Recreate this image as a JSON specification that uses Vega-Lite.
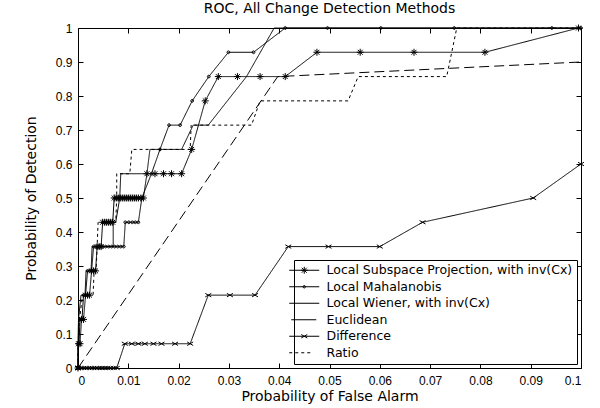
{
  "$schema": "https://vega.github.io/schema/vega-lite/v6.json",
  "width": 503,
  "height": 340,
  "autosize": {"type": "none"},
  "padding": {"left": 78, "top": 28, "right": 19, "bottom": 40},
  "background": "white",
  "config": {
    "font": "Liberation Sans",
    "view": {"stroke": "black", "strokeWidth": 1},
    "axis": {
      "grid": false,
      "domain": false,
      "tickColor": "black",
      "tickSize": -5,
      "labelColor": "black",
      "labelFont": "Liberation Sans",
      "labelFontSize": 12,
      "titleFont": "DejaVu Sans",
      "titleFontSize": 14,
      "titleFontWeight": "normal",
      "titleColor": "black"
    },
    "legend": {
      "title": null,
      "orient": "bottom-right",
      "offset": 4,
      "strokeColor": "black",
      "fillColor": "white",
      "padding": 4,
      "symbolSize": 100,
      "labelFont": "DejaVu Sans",
      "labelFontSize": 12.5,
      "labelColor": "black",
      "labelOffset": 16,
      "rowPadding": 3.5,
      "symbolStrokeColor": "black",
      "symbolFillColor": "black",
      "symbolStrokeWidth": 1,
      "symbolOpacity": 1,
      "labelLimit": 0
    }
  },
  "title": {"text": "ROC, All Change Detection Methods", "fontSize": 14, "fontWeight": "normal", "font": "DejaVu Sans", "color": "black", "offset": 6, "frame": "group"},
  "data": {"values": [
    {"series": "Local Subspace Projection, with inv(Cx)", "i": 0, "x": 0, "y": 0},
    {"series": "Local Subspace Projection, with inv(Cx)", "i": 1, "x": 0.0001, "y": 0.0714},
    {"series": "Local Subspace Projection, with inv(Cx)", "i": 2, "x": 0.0004, "y": 0.0714},
    {"series": "Local Subspace Projection, with inv(Cx)", "i": 3, "x": 0.0007, "y": 0.1429},
    {"series": "Local Subspace Projection, with inv(Cx)", "i": 4, "x": 0.0011, "y": 0.1429},
    {"series": "Local Subspace Projection, with inv(Cx)", "i": 5, "x": 0.0015, "y": 0.2143},
    {"series": "Local Subspace Projection, with inv(Cx)", "i": 6, "x": 0.0019, "y": 0.2143},
    {"series": "Local Subspace Projection, with inv(Cx)", "i": 7, "x": 0.0023, "y": 0.2143},
    {"series": "Local Subspace Projection, with inv(Cx)", "i": 8, "x": 0.0027, "y": 0.2857},
    {"series": "Local Subspace Projection, with inv(Cx)", "i": 9, "x": 0.0031, "y": 0.2857},
    {"series": "Local Subspace Projection, with inv(Cx)", "i": 10, "x": 0.0035, "y": 0.2857},
    {"series": "Local Subspace Projection, with inv(Cx)", "i": 11, "x": 0.0038, "y": 0.3571},
    {"series": "Local Subspace Projection, with inv(Cx)", "i": 12, "x": 0.0042, "y": 0.3571},
    {"series": "Local Subspace Projection, with inv(Cx)", "i": 13, "x": 0.0046, "y": 0.3571},
    {"series": "Local Subspace Projection, with inv(Cx)", "i": 14, "x": 0.0049, "y": 0.4286},
    {"series": "Local Subspace Projection, with inv(Cx)", "i": 15, "x": 0.0053, "y": 0.4286},
    {"series": "Local Subspace Projection, with inv(Cx)", "i": 16, "x": 0.0057, "y": 0.4286},
    {"series": "Local Subspace Projection, with inv(Cx)", "i": 17, "x": 0.0061, "y": 0.4286},
    {"series": "Local Subspace Projection, with inv(Cx)", "i": 18, "x": 0.0065, "y": 0.4286},
    {"series": "Local Subspace Projection, with inv(Cx)", "i": 19, "x": 0.0069, "y": 0.4286},
    {"series": "Local Subspace Projection, with inv(Cx)", "i": 20, "x": 0.0072, "y": 0.5},
    {"series": "Local Subspace Projection, with inv(Cx)", "i": 21, "x": 0.0076, "y": 0.5},
    {"series": "Local Subspace Projection, with inv(Cx)", "i": 22, "x": 0.008, "y": 0.5},
    {"series": "Local Subspace Projection, with inv(Cx)", "i": 23, "x": 0.0084, "y": 0.5},
    {"series": "Local Subspace Projection, with inv(Cx)", "i": 24, "x": 0.0088, "y": 0.5},
    {"series": "Local Subspace Projection, with inv(Cx)", "i": 25, "x": 0.0092, "y": 0.5},
    {"series": "Local Subspace Projection, with inv(Cx)", "i": 26, "x": 0.0096, "y": 0.5},
    {"series": "Local Subspace Projection, with inv(Cx)", "i": 27, "x": 0.01, "y": 0.5},
    {"series": "Local Subspace Projection, with inv(Cx)", "i": 28, "x": 0.0104, "y": 0.5},
    {"series": "Local Subspace Projection, with inv(Cx)", "i": 29, "x": 0.0108, "y": 0.5},
    {"series": "Local Subspace Projection, with inv(Cx)", "i": 30, "x": 0.0112, "y": 0.5},
    {"series": "Local Subspace Projection, with inv(Cx)", "i": 31, "x": 0.0116, "y": 0.5},
    {"series": "Local Subspace Projection, with inv(Cx)", "i": 32, "x": 0.012, "y": 0.5},
    {"series": "Local Subspace Projection, with inv(Cx)", "i": 33, "x": 0.0125, "y": 0.5},
    {"series": "Local Subspace Projection, with inv(Cx)", "i": 34, "x": 0.013, "y": 0.5},
    {"series": "Local Subspace Projection, with inv(Cx)", "i": 35, "x": 0.0137, "y": 0.5714},
    {"series": "Local Subspace Projection, with inv(Cx)", "i": 36, "x": 0.0153, "y": 0.5714},
    {"series": "Local Subspace Projection, with inv(Cx)", "i": 37, "x": 0.017, "y": 0.5714},
    {"series": "Local Subspace Projection, with inv(Cx)", "i": 38, "x": 0.0186, "y": 0.5714},
    {"series": "Local Subspace Projection, with inv(Cx)", "i": 39, "x": 0.0206, "y": 0.5714},
    {"series": "Local Subspace Projection, with inv(Cx)", "i": 40, "x": 0.0226, "y": 0.6429},
    {"series": "Local Subspace Projection, with inv(Cx)", "i": 41, "x": 0.0253, "y": 0.7857},
    {"series": "Local Subspace Projection, with inv(Cx)", "i": 42, "x": 0.0279, "y": 0.8571},
    {"series": "Local Subspace Projection, with inv(Cx)", "i": 43, "x": 0.0317, "y": 0.8571},
    {"series": "Local Subspace Projection, with inv(Cx)", "i": 44, "x": 0.0362, "y": 0.8571},
    {"series": "Local Subspace Projection, with inv(Cx)", "i": 45, "x": 0.0412, "y": 0.8571},
    {"series": "Local Subspace Projection, with inv(Cx)", "i": 46, "x": 0.0475, "y": 0.9286},
    {"series": "Local Subspace Projection, with inv(Cx)", "i": 47, "x": 0.0561, "y": 0.9286},
    {"series": "Local Subspace Projection, with inv(Cx)", "i": 48, "x": 0.0668, "y": 0.9286},
    {"series": "Local Subspace Projection, with inv(Cx)", "i": 49, "x": 0.0809, "y": 0.9286},
    {"series": "Local Subspace Projection, with inv(Cx)", "i": 50, "x": 0.0995, "y": 1},
    {"series": "Local Mahalanobis", "i": 0, "x": 0, "y": 0},
    {"series": "Local Mahalanobis", "i": 1, "x": 0, "y": 0.0714},
    {"series": "Local Mahalanobis", "i": 2, "x": 0.0002, "y": 0.0714},
    {"series": "Local Mahalanobis", "i": 3, "x": 0.0004, "y": 0.1429},
    {"series": "Local Mahalanobis", "i": 4, "x": 0.0008, "y": 0.1429},
    {"series": "Local Mahalanobis", "i": 5, "x": 0.0011, "y": 0.2143},
    {"series": "Local Mahalanobis", "i": 6, "x": 0.0015, "y": 0.2143},
    {"series": "Local Mahalanobis", "i": 7, "x": 0.0019, "y": 0.2857},
    {"series": "Local Mahalanobis", "i": 8, "x": 0.0023, "y": 0.2857},
    {"series": "Local Mahalanobis", "i": 9, "x": 0.0027, "y": 0.2857},
    {"series": "Local Mahalanobis", "i": 10, "x": 0.0031, "y": 0.3571},
    {"series": "Local Mahalanobis", "i": 11, "x": 0.0037, "y": 0.3571},
    {"series": "Local Mahalanobis", "i": 12, "x": 0.0043, "y": 0.3571},
    {"series": "Local Mahalanobis", "i": 13, "x": 0.0049, "y": 0.3571},
    {"series": "Local Mahalanobis", "i": 14, "x": 0.0055, "y": 0.3571},
    {"series": "Local Mahalanobis", "i": 15, "x": 0.0061, "y": 0.3571},
    {"series": "Local Mahalanobis", "i": 16, "x": 0.0067, "y": 0.3571},
    {"series": "Local Mahalanobis", "i": 17, "x": 0.0073, "y": 0.3571},
    {"series": "Local Mahalanobis", "i": 18, "x": 0.0079, "y": 0.3571},
    {"series": "Local Mahalanobis", "i": 19, "x": 0.0085, "y": 0.3571},
    {"series": "Local Mahalanobis", "i": 20, "x": 0.0091, "y": 0.3571},
    {"series": "Local Mahalanobis", "i": 21, "x": 0.0094, "y": 0.4286},
    {"series": "Local Mahalanobis", "i": 22, "x": 0.0101, "y": 0.4286},
    {"series": "Local Mahalanobis", "i": 23, "x": 0.0108, "y": 0.4286},
    {"series": "Local Mahalanobis", "i": 24, "x": 0.0114, "y": 0.4286},
    {"series": "Local Mahalanobis", "i": 25, "x": 0.012, "y": 0.4286},
    {"series": "Local Mahalanobis", "i": 26, "x": 0.0127, "y": 0.5},
    {"series": "Local Mahalanobis", "i": 27, "x": 0.0146, "y": 0.5714},
    {"series": "Local Mahalanobis", "i": 28, "x": 0.0163, "y": 0.6429},
    {"series": "Local Mahalanobis", "i": 29, "x": 0.0181, "y": 0.7143},
    {"series": "Local Mahalanobis", "i": 30, "x": 0.0203, "y": 0.7143},
    {"series": "Local Mahalanobis", "i": 31, "x": 0.0227, "y": 0.7857},
    {"series": "Local Mahalanobis", "i": 32, "x": 0.026, "y": 0.8571},
    {"series": "Local Mahalanobis", "i": 33, "x": 0.0299, "y": 0.9286},
    {"series": "Local Mahalanobis", "i": 34, "x": 0.0349, "y": 0.9286},
    {"series": "Local Mahalanobis", "i": 35, "x": 0.0412, "y": 1},
    {"series": "Local Mahalanobis", "i": 36, "x": 0.0496, "y": 1},
    {"series": "Local Mahalanobis", "i": 37, "x": 0.0602, "y": 1},
    {"series": "Local Mahalanobis", "i": 38, "x": 0.0748, "y": 1},
    {"series": "Local Mahalanobis", "i": 39, "x": 0.0942, "y": 1},
    {"series": "Local Mahalanobis", "i": 40, "x": 0.1, "y": 1},
    {"series": "Local Wiener, with inv(Cx)", "i": 0, "x": 0, "y": 0},
    {"series": "Local Wiener, with inv(Cx)", "i": 1, "x": 0, "y": 0.0714},
    {"series": "Local Wiener, with inv(Cx)", "i": 2, "x": 0.0001, "y": 0.1429},
    {"series": "Local Wiener, with inv(Cx)", "i": 3, "x": 0.0006, "y": 0.2143},
    {"series": "Local Wiener, with inv(Cx)", "i": 4, "x": 0.0014, "y": 0.2143},
    {"series": "Local Wiener, with inv(Cx)", "i": 5, "x": 0.0016, "y": 0.2857},
    {"series": "Local Wiener, with inv(Cx)", "i": 6, "x": 0.0026, "y": 0.2857},
    {"series": "Local Wiener, with inv(Cx)", "i": 7, "x": 0.0028, "y": 0.3571},
    {"series": "Local Wiener, with inv(Cx)", "i": 8, "x": 0.007, "y": 0.3571},
    {"series": "Local Wiener, with inv(Cx)", "i": 9, "x": 0.007, "y": 0.4286},
    {"series": "Local Wiener, with inv(Cx)", "i": 10, "x": 0.0075, "y": 0.4286},
    {"series": "Local Wiener, with inv(Cx)", "i": 11, "x": 0.0083, "y": 0.5},
    {"series": "Local Wiener, with inv(Cx)", "i": 12, "x": 0.0085, "y": 0.5714},
    {"series": "Local Wiener, with inv(Cx)", "i": 13, "x": 0.0137, "y": 0.5714},
    {"series": "Local Wiener, with inv(Cx)", "i": 14, "x": 0.0143, "y": 0.6429},
    {"series": "Local Wiener, with inv(Cx)", "i": 15, "x": 0.0206, "y": 0.6429},
    {"series": "Local Wiener, with inv(Cx)", "i": 16, "x": 0.0229, "y": 0.7143},
    {"series": "Local Wiener, with inv(Cx)", "i": 17, "x": 0.0259, "y": 0.7143},
    {"series": "Local Wiener, with inv(Cx)", "i": 18, "x": 0.0335, "y": 0.8571},
    {"series": "Local Wiener, with inv(Cx)", "i": 19, "x": 0.039, "y": 1},
    {"series": "Local Wiener, with inv(Cx)", "i": 20, "x": 0.1, "y": 1},
    {"series": "Euclidean", "i": 0, "x": 0, "y": 0},
    {"series": "Euclidean", "i": 1, "x": 0.0397, "y": 0.8571},
    {"series": "Euclidean", "i": 2, "x": 0.1, "y": 0.9},
    {"series": "Difference", "i": 0, "x": 0, "y": 0},
    {"series": "Difference", "i": 1, "x": 0.0005, "y": 0},
    {"series": "Difference", "i": 2, "x": 0.001, "y": 0},
    {"series": "Difference", "i": 3, "x": 0.0015, "y": 0},
    {"series": "Difference", "i": 4, "x": 0.002, "y": 0},
    {"series": "Difference", "i": 5, "x": 0.0025, "y": 0},
    {"series": "Difference", "i": 6, "x": 0.003, "y": 0},
    {"series": "Difference", "i": 7, "x": 0.0035, "y": 0},
    {"series": "Difference", "i": 8, "x": 0.004, "y": 0},
    {"series": "Difference", "i": 9, "x": 0.0046, "y": 0},
    {"series": "Difference", "i": 10, "x": 0.0052, "y": 0},
    {"series": "Difference", "i": 11, "x": 0.0058, "y": 0},
    {"series": "Difference", "i": 12, "x": 0.0064, "y": 0},
    {"series": "Difference", "i": 13, "x": 0.0071, "y": 0},
    {"series": "Difference", "i": 14, "x": 0.0077, "y": 0},
    {"series": "Difference", "i": 15, "x": 0.0093, "y": 0.0714},
    {"series": "Difference", "i": 16, "x": 0.0107, "y": 0.0714},
    {"series": "Difference", "i": 17, "x": 0.012, "y": 0.0714},
    {"series": "Difference", "i": 18, "x": 0.0133, "y": 0.0714},
    {"series": "Difference", "i": 19, "x": 0.015, "y": 0.0714},
    {"series": "Difference", "i": 20, "x": 0.0166, "y": 0.0714},
    {"series": "Difference", "i": 21, "x": 0.0193, "y": 0.0714},
    {"series": "Difference", "i": 22, "x": 0.0223, "y": 0.0714},
    {"series": "Difference", "i": 23, "x": 0.0259, "y": 0.2143},
    {"series": "Difference", "i": 24, "x": 0.0302, "y": 0.2143},
    {"series": "Difference", "i": 25, "x": 0.0352, "y": 0.2143},
    {"series": "Difference", "i": 26, "x": 0.0418, "y": 0.3571},
    {"series": "Difference", "i": 27, "x": 0.0498, "y": 0.3571},
    {"series": "Difference", "i": 28, "x": 0.06, "y": 0.3571},
    {"series": "Difference", "i": 29, "x": 0.0685, "y": 0.4286},
    {"series": "Difference", "i": 30, "x": 0.0905, "y": 0.5},
    {"series": "Difference", "i": 31, "x": 0.1, "y": 0.6},
    {"series": "Ratio", "i": 0, "x": 0, "y": 0},
    {"series": "Ratio", "i": 1, "x": 0, "y": 0.0714},
    {"series": "Ratio", "i": 2, "x": 0.0003, "y": 0.1429},
    {"series": "Ratio", "i": 3, "x": 0.0009, "y": 0.2143},
    {"series": "Ratio", "i": 4, "x": 0.003, "y": 0.2143},
    {"series": "Ratio", "i": 5, "x": 0.0032, "y": 0.2857},
    {"series": "Ratio", "i": 6, "x": 0.0036, "y": 0.2857},
    {"series": "Ratio", "i": 7, "x": 0.0038, "y": 0.3571},
    {"series": "Ratio", "i": 8, "x": 0.004, "y": 0.4286},
    {"series": "Ratio", "i": 9, "x": 0.0075, "y": 0.4286},
    {"series": "Ratio", "i": 10, "x": 0.0077, "y": 0.5},
    {"series": "Ratio", "i": 11, "x": 0.0077, "y": 0.5714},
    {"series": "Ratio", "i": 12, "x": 0.0103, "y": 0.5714},
    {"series": "Ratio", "i": 13, "x": 0.0107, "y": 0.6429},
    {"series": "Ratio", "i": 14, "x": 0.0223, "y": 0.6429},
    {"series": "Ratio", "i": 15, "x": 0.0225, "y": 0.7143},
    {"series": "Ratio", "i": 16, "x": 0.0345, "y": 0.7143},
    {"series": "Ratio", "i": 17, "x": 0.0362, "y": 0.7857},
    {"series": "Ratio", "i": 18, "x": 0.0537, "y": 0.7857},
    {"series": "Ratio", "i": 19, "x": 0.0557, "y": 0.8571},
    {"series": "Ratio", "i": 20, "x": 0.0733, "y": 0.8571},
    {"series": "Ratio", "i": 21, "x": 0.0753, "y": 1},
    {"series": "Ratio", "i": 22, "x": 0.1, "y": 1}
  ]},
  "layer": [
    {
      "mark": {"type": "line", "color": "black", "strokeWidth": 1},
      "encoding": {
        "x": {"field": "x", "type": "quantitative", "scale": {"domain": [0, 0.1], "nice": false, "zero": false},
              "axis": {"values": [0, 0.01, 0.02, 0.03, 0.04, 0.05, 0.06, 0.07, 0.08, 0.09, 0.1], "format": "~g", "title": "Probability of False Alarm", "labelPadding": 12, "titlePadding": 3}},
        "y": {"field": "y", "type": "quantitative", "scale": {"domain": [0, 1], "nice": false},
              "axis": {"values": [0, 0.1, 0.2, 0.3, 0.4, 0.5, 0.6, 0.7, 0.8, 0.9, 1], "format": "~g", "title": "Probability of Detection", "labelPadding": 11, "titlePadding": 17}},
        "detail": {"field": "series", "type": "nominal"},
        "strokeDash": {"field": "series", "type": "nominal",
          "scale": {"domain": ["Local Subspace Projection, with inv(Cx)", "Local Mahalanobis", "Local Wiener, with inv(Cx)", "Euclidean", "Difference", "Ratio"],
                    "range": [[1, 0], [1, 0], [1, 0], [10, 5], [1, 0], [3, 3]]},
          "legend": null},
        "order": {"field": "i", "type": "quantitative"}
      }
    },
    {
      "transform": [{"filter": {"field": "series", "oneOf": ["Local Subspace Projection, with inv(Cx)", "Local Mahalanobis", "Difference"]}}],
      "mark": {"type": "point", "color": "black", "strokeWidth": 1, "size": 49, "opacity": 1},
      "encoding": {
        "x": {"field": "x", "type": "quantitative", "axis": {"orient": "top", "values": [0, 0.01, 0.02, 0.03, 0.04, 0.05, 0.06, 0.07, 0.08, 0.09, 0.1], "labels": false, "title": null}},
        "y": {"field": "y", "type": "quantitative", "axis": {"orient": "right", "values": [0, 0.1, 0.2, 0.3, 0.4, 0.5, 0.6, 0.7, 0.8, 0.9, 1], "labels": false, "title": null}},
        "shape": {"field": "series", "type": "nominal",
          "scale": {"domain": ["Local Subspace Projection, with inv(Cx)", "Local Mahalanobis", "Difference"],
                    "range": ["M0,-1L0,1M-1,0L1,0M-0.7,-0.7L0.7,0.7M-0.7,0.7L0.7,-0.7",
                              "M0.4,0A0.4,0.4 0 1,1 -0.4,0A0.4,0.4 0 1,1 0.4,0",
                              "M-0.85,-0.5L0.85,0.5M-0.85,0.5L0.85,-0.5"]},
          "legend": null}
      }
    },
    {
      "mark": {"type": "point", "opacity": 0},
      "encoding": {
        "x": {"field": "x", "type": "quantitative", "axis": null},
        "y": {"field": "y", "type": "quantitative", "axis": null},
        "shape": {"field": "series", "type": "nominal",
          "scale": {"domain": ["Local Subspace Projection, with inv(Cx)", "Local Mahalanobis", "Local Wiener, with inv(Cx)", "Euclidean", "Difference", "Ratio"],
                    "range": ["M-3,0L3,0M0,-0.7L0,0.7M-0.7,0L0.7,0M-0.5,-0.5L0.5,0.5M-0.5,0.5L0.5,-0.5",
                              "M-3,0L3,0M0.25,0A0.25,0.25 0 1,1 -0.25,0A0.25,0.25 0 1,1 0.25,0",
                              "M-3,0L3,0",
                              "M-2.6,0L2.4,0",
                              "M-3,0L3,0M-0.6,-0.35L0.6,0.35M-0.6,0.35L0.6,-0.35",
                              "M-3,0L-2.4,0M-1.8,0L-1.2,0M-0.6,0L0,0M0.6,0L1.2,0"]},
          "legend": {}}
      }
    }
  ],
  "resolve": {"scale": {"shape": "independent"}, "axis": {"x": "independent", "y": "independent"}, "legend": {"shape": "independent"}}
}
